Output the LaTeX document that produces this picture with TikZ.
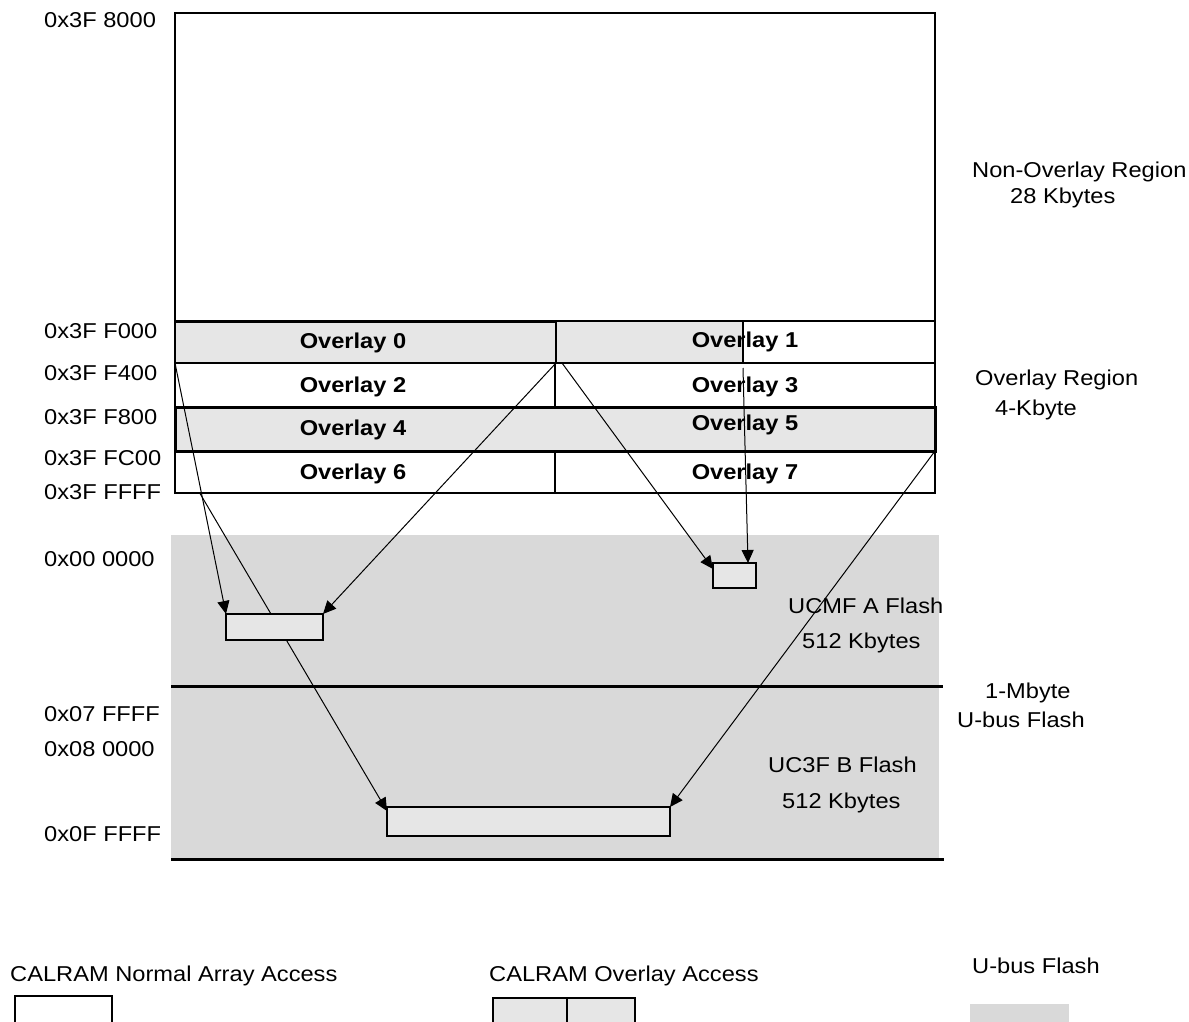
\documentclass[tikz,border=0pt]{standalone}
\usepackage{fontspec}
\setmainfont{Liberation Sans}[FakeStretch=1.1]
\usetikzlibrary{arrows.meta}
\definecolor{lightg}{HTML}{E6E6E6}
\definecolor{flashg}{HTML}{D9D9D9}
\pgfdeclarelayer{bg}
\pgfdeclarelayer{mid}
\pgfsetlayers{bg,mid,main}
\begin{document}
\begin{tikzpicture}[x=1pt,y=-1pt,
  lbl/.style={font=\fontsize{21.5}{25}\selectfont, inner sep=0pt, anchor=base west},
  ovl/.style={font=\bfseries\fontsize{21.5}{25}\selectfont, inner sep=0pt, anchor=base},
  cellw/.style={draw, line width=2pt, fill=white, inner sep=0pt, outer sep=0pt, anchor=north west},
  cellg/.style={draw, line width=2pt, fill=lightg, inner sep=0pt, outer sep=0pt, anchor=north west},
  fbox/.style={draw, line width=2pt, fill=lightg, inner sep=0pt, outer sep=0pt, anchor=north west},
  arr/.style={line width=1pt, -{Triangle[length=13pt,width=12pt]}},
  heavy/.style={line width=3pt},
]
\useasboundingbox (0,0) rectangle (1189,1022);
\begin{pgfonlayer}{bg}
\fill[white] (0,0) rectangle (1189,1022);
\fill[flashg] (171,535) rectangle (939,859);
\end{pgfonlayer}
\draw[heavy] (171,686) -- (943,686);
\draw[heavy] (171,859) -- (944,859);

% CALRAM array
\node[cellw, minimum width=760pt, minimum height=308pt] (nonov) at (175,13) {};
\node[cellw, minimum width=380pt, minimum height=44pt] (ov2) at (175,363) {};
\node[cellw, minimum width=380pt, minimum height=44pt] (ov3) at (555,363) {};
\node[cellw, minimum width=380pt, minimum height=42pt] (ov6) at (175,451) {};
\node[cellw, minimum width=380pt, minimum height=42pt] (ov7) at (555,451) {};
\node[cellw, minimum width=379pt, minimum height=42pt] (ov1) at (556,321) {};
\node[cellg, minimum width=187pt, minimum height=42pt] (ov1g) at (556,321) {};
\node[cellg, minimum width=381pt, minimum height=41pt] (ov0) at (175,322) {};
\node[cellg, line width=3pt, minimum width=760pt, minimum height=44pt] (ov45) at (175,407) {};

\node[ovl] (t0) at (353,348) {Overlay 0};
\node[ovl] (t2) at (353,392) {Overlay 2};
\node[ovl] (t4) at (353,435) {Overlay 4};
\node[ovl] (t6) at (353,479) {Overlay 6};
\node[ovl] (t1) at (745,347) {Overlay 1};
\node[ovl] (t3) at (745,392) {Overlay 3};
\node[ovl] (t5) at (745,430) {Overlay 5};
\node[ovl] (t7) at (745,479) {Overlay 7};

% flash boxes
\node[fbox, minimum width=97pt, minimum height=26pt] (a1) at (226,614) {};
\node[fbox, minimum width=283pt, minimum height=29pt] (bb) at (387,807) {};
\node[fbox, minimum width=43pt, minimum height=25pt] (sb) at (713,563) {};

% address labels
\node[lbl] (l1) at (44,28) {0x3F 8000};
\node[lbl] (l2) at (44,338) {0x3F F000};
\node[lbl] (l3) at (44,380) {0x3F F400};
\node[lbl] (l4) at (44,424) {0x3F F800};
\node[lbl] (l5) at (44,465) {0x3F FC00};
\node[lbl] (l6) at (44,499) {0x3F FFFF};
\node[lbl] (l7) at (44,566) {0x00 0000};
\node[lbl] (l8) at (44,721) {0x07 FFFF};
\node[lbl] (l9) at (44,756) {0x08 0000};
\node[lbl] (l10) at (44,841) {0x0F FFFF};

% right labels
\node[lbl] (r1) at (972,178) {Non-Overlay Region};
\node[lbl] (r2) at (1010,204) {28 Kbytes};
\node[lbl] (r3) at (975,385) {Overlay Region};
\node[lbl] (r4) at (995,415) {4-Kbyte};
\node[lbl] (r5) at (985,698) {1-Mbyte};
\node[lbl] (r6) at (957,727) {U-bus Flash};
\node[lbl] (f1) at (788,613) {UCMF A Flash};
\node[lbl] (f2) at (802,648) {512 Kbytes};
\node[lbl] (f3) at (768,772) {UC3F B Flash};
\node[lbl] (f4) at (782,808) {512 Kbytes};

% connectors
\begin{pgfonlayer}{mid}
\draw[arr] (ov45.south west) -- ([yshift=-4pt]bb.north west);
\end{pgfonlayer}
\draw[arr] (ov0.south west) -- (a1.north west);
\draw[arr] (ov0.south east) -- (a1.north east);
\draw[arr] (ov45.south east) -- (bb.north east);
\draw[arr] ([xshift=6pt]ov0.south east) -- ([yshift=-6pt]sb.north west);
\draw[arr] ([yshift=-5pt]ov1g.south east) -- ([xshift=-8pt]sb.north east);

% legend
\node[lbl] (g1) at (10,981) {CALRAM Normal Array Access};
\node[lbl] (g2) at (489,981) {CALRAM Overlay Access};
\node[lbl] (g3) at (972,973) {U-bus Flash};
\draw[line width=2pt] (15,1022) -- (15,996) -- (112,996) -- (112,1022);
\fill[lightg] (493,998) rectangle (635,1022);
\draw[line width=2pt] (493,1022) -- (493,998) -- (635,998) -- (635,1022);
\draw[line width=2pt] (567,998) -- (567,1022);
\fill[flashg] (970,1004) rectangle (1069,1022);
\end{tikzpicture}
\end{document}
